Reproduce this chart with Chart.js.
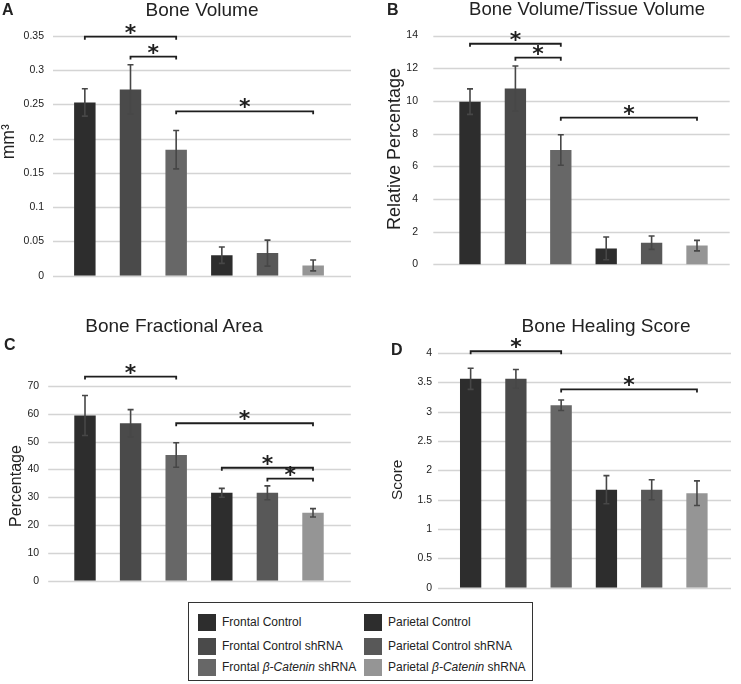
<!DOCTYPE html>
<html>
<head>
<meta charset="utf-8">
<script src="https://cdn.jsdelivr.net/npm/chart.js@4.4.1/dist/chart.umd.min.js"></script>
<style>
  body { margin: 0; background: #fff; }
  #wrap { position: relative; width: 741px; height: 684px; overflow: hidden;
          font-family: 'Liberation Sans', Arial, sans-serif; color: #222; }
  canvas { position: absolute; }
  .title { position: absolute; width: 300px; text-align: center; white-space: nowrap; line-height: 1; }
  .letter { position: absolute; font-weight: bold; font-size: 16px; line-height: 1; }
  .ytitle { position: absolute; width: 240px; text-align: center; white-space: nowrap;
            line-height: 1; transform: rotate(-90deg); }
  #legend { position: absolute; left: 188px; top: 602px; width: 345px; height: 79px;
            box-sizing: border-box; border: 1px solid #333; background: #fff; }
  .sw { position: absolute; width: 18px; height: 17px; }
  .lt { position: absolute; font-size: 12px; line-height: 17px; white-space: nowrap; }
</style>
</head>
<body>
<div id="wrap">
  <canvas id="cA" width="370" height="300" style="left:0;top:0"></canvas>
  <canvas id="cB" width="371" height="300" style="left:370px;top:0"></canvas>
  <canvas id="cC" width="370" height="310" style="left:0;top:300px"></canvas>
  <canvas id="cD" width="371" height="310" style="left:370px;top:300px"></canvas>

  <div class="letter" style="left:2px;top:1.5px">A</div>
  <div class="letter" style="left:387px;top:1.5px">B</div>
  <div class="letter" style="left:4px;top:336.5px">C</div>
  <div class="letter" style="left:391px;top:341.5px">D</div>

  <div class="title" style="left:52px;top:0;font-size:19px">Bone Volume</div>
  <div class="title" style="left:437px;top:-0.5px;font-size:18.5px">Bone Volume/Tissue Volume</div>
  <div class="title" style="left:24px;top:315.5px;font-size:19px">Bone Fractional Area</div>
  <div class="title" style="left:456px;top:315.5px;font-size:19px">Bone Healing Score</div>

  <div class="ytitle" style="left:-111px;top:133px;height:17.5px;font-size:17.5px">mm³</div>
  <div class="ytitle" style="left:274px;top:140px;height:18px;font-size:18px">Relative Percentage</div>
  <div class="ytitle" style="left:-104.5px;top:478px;height:16px;font-size:16px">Percentage</div>
  <div class="ytitle" style="left:277px;top:472px;height:15.5px;font-size:15.5px">Score</div>

  <div id="legend"></div>
</div>

<script>
// Groups (same order in every panel)
const categories = [
  'Frontal Control', 'Frontal Control shRNA', 'Frontal β-Catenin shRNA',
  'Parietal Control', 'Parietal Control shRNA', 'Parietal β-Catenin shRNA'
];
const barColors = ['#2d2d2d', '#4a4a4a', '#676767', '#2d2d2d', '#585858', '#959595'];

// A - Bone Volume (mm3)
const boneVolume = [0.253, 0.272, 0.184, 0.030, 0.033, 0.015];
const boneVolumeErr = [0.020, 0.036, 0.028, 0.012, 0.019, 0.008];
const boneVolumeTicks = [0, 0.05, 0.1, 0.15, 0.2, 0.25, 0.3, 0.35];
const boneVolumeSig = [[0, 2, 0.349], [1, 2, 0.320], [2, 5, 0.240]];

// B - Bone Volume/Tissue Volume (relative percentage)
const bvtv = [9.96, 10.76, 7.0, 0.98, 1.33, 1.15];
const bvtvErr = [0.78, 1.38, 0.93, 0.70, 0.41, 0.32];
const bvtvTicks = [0, 2, 4, 6, 8, 10, 12, 14];
const bvtvSig = [[0, 2, 13.5], [1, 2, 12.65], [2, 5, 8.98]];

// C - Bone Fractional Area (percentage)
const fractionalArea = [59.4, 56.6, 45.2, 31.6, 31.6, 24.4];
const fractionalAreaErr = [7.2, 4.9, 4.4, 1.6, 2.5, 1.5];
const fractionalAreaTicks = [0, 10, 20, 30, 40, 50, 60, 70];
const fractionalAreaSig = [[0, 2, 73.4], [2, 5, 56.6], [3, 5, 40.6], [4, 5, 36.7]];

// D - Bone Healing Score
const healingScore = [3.56, 3.56, 3.11, 1.67, 1.67, 1.61];
const healingScoreErr = [0.18, 0.16, 0.09, 0.24, 0.17, 0.21];
const healingScoreTicks = [0, 0.5, 1, 1.5, 2, 2.5, 3, 3.5, 4];
const healingScoreSig = [[0, 2, 4.03], [2, 5, 3.38]];

// Legend (two columns, column-major like the figure)
const legendBox = document.getElementById('legend');
const rowTops = [11, 34.5, 56];
categories.forEach((name, i) => {
  const col = Math.floor(i / 3), row = i % 3;
  const sw = document.createElement('div');
  sw.className = 'sw';
  sw.style.left = (col ? 175 : 9) + 'px';
  sw.style.top = rowTops[row] + 'px';
  sw.style.background = barColors[i];
  legendBox.appendChild(sw);
  const t = document.createElement('div');
  t.className = 'lt';
  t.style.left = (col ? 199 : 33) + 'px';
  t.style.top = rowTops[row] + 'px';
  t.innerHTML = name.replace('β-Catenin', '<i>β-Catenin</i>');
  legendBox.appendChild(t);
});

// Plugin: extended gridlines, error bars, significance brackets
function marksPlugin(errors, brackets, ext) {
  return {
    id: 'marks',
    beforeDatasetsDraw(chart) {
      const ctx = chart.ctx, y = chart.scales.y, area = chart.chartArea;
      ctx.save();
      ctx.strokeStyle = '#d4d4d4';
      ctx.lineWidth = 1.4;
      y.ticks.forEach(t => {
        const py = Math.round(y.getPixelForValue(t.value)) + 0.5;
        ctx.beginPath();
        ctx.moveTo(area.left - ext[0], py);
        ctx.lineTo(area.right + ext[1], py);
        ctx.stroke();
      });
      ctx.restore();
    },
    afterDatasetsDraw(chart) {
      const ctx = chart.ctx, y = chart.scales.y;
      const bars = chart.getDatasetMeta(0).data;
      const vals = chart.data.datasets[0].data;
      ctx.save();
      // error bars
      ctx.strokeStyle = '#474747';
      ctx.lineWidth = 1.6;
      bars.forEach((b, i) => {
        const x = b.x;
        const hi = y.getPixelForValue(vals[i] + errors[i]);
        const lo = y.getPixelForValue(vals[i] - errors[i]);
        ctx.beginPath();
        ctx.moveTo(x, hi); ctx.lineTo(x, lo);
        ctx.moveTo(x - 3, hi); ctx.lineTo(x + 3, hi);
        ctx.moveTo(x - 3, lo); ctx.lineTo(x + 3, lo);
        ctx.stroke();
      });
      // brackets and stars
      ctx.strokeStyle = '#1e1e1e';
      ctx.fillStyle = '#1e1e1e';
      ctx.lineWidth = 1.8;
      ctx.font = 'bold 22px "DejaVu Sans"';
      ctx.textAlign = 'center';
      const m = ctx.measureText('*');
      const starShift = (m.actualBoundingBoxAscent - m.actualBoundingBoxDescent) / 2;
      brackets.forEach(([a, b, v]) => {
        const x1 = bars[a].x, x2 = bars[b].x;
        const py = y.getPixelForValue(v);
        ctx.beginPath();
        ctx.moveTo(x1, py + 3); ctx.lineTo(x1, py);
        ctx.lineTo(x2, py); ctx.lineTo(x2, py + 3);
        ctx.stroke();
        ctx.fillText('*', (x1 + x2) / 2, py - 8 + starShift);
      });
      ctx.restore();
    }
  };
}

function makePanel(id, values, errors, ticks, brackets, layout) {
  new Chart(document.getElementById(id), {
    type: 'bar',
    data: {
      labels: categories,
      datasets: [{
        data: values,
        backgroundColor: barColors,
        borderWidth: 0,
        barPercentage: 0.47,
        categoryPercentage: 1
      }]
    },
    options: {
      responsive: false,
      animation: false,
      layout: { padding: layout.pad },
      plugins: { legend: { display: false }, tooltip: { enabled: false } },
      scales: {
        x: { display: false },
        y: {
          min: ticks[0],
          max: ticks[ticks.length - 1],
          grid: { display: false, drawTicks: false },
          border: { display: false },
          afterBuildTicks: s => { s.ticks = ticks.map(v => ({ value: v })); },
          afterFit: s => { s.width = layout.axisWidth; },
          ticks: {
            padding: layout.tickPad,
            color: '#222',
            font: { family: 'Liberation Sans', size: 10.5 },
            callback: v => String(v)
          }
        }
      }
    },
    plugins: [marksPlugin(errors, brackets, layout.ext)]
  });
}

makePanel('cA', boneVolume, boneVolumeErr, boneVolumeTicks, boneVolumeSig,
  { pad: { left: 0, right: 34, top: 36, bottom: 20 }, axisWidth: 62, tickPad: 18, ext: [9, 15] });
makePanel('cB', bvtv, bvtvErr, bvtvTicks, bvtvSig,
  { pad: { left: 17, right: 21.3, top: 28, bottom: 20 }, axisWidth: 60.3, tickPad: 29.3, ext: [14, 10] });
makePanel('cC', fractionalArea, fractionalAreaErr, fractionalAreaTicks, fractionalAreaSig,
  { pad: { left: 5, right: 34.2, top: 86, bottom: 17.3 }, axisWidth: 57.2, tickPad: 23, ext: [14, 15] });
makePanel('cD', healingScore, healingScoreErr, healingScoreTicks, healingScoreSig,
  { pad: { left: 19, right: 21.4, top: 53, bottom: 17 }, axisWidth: 59, tickPad: 16, ext: [10, 11.4] });
</script>
</body>
</html>
